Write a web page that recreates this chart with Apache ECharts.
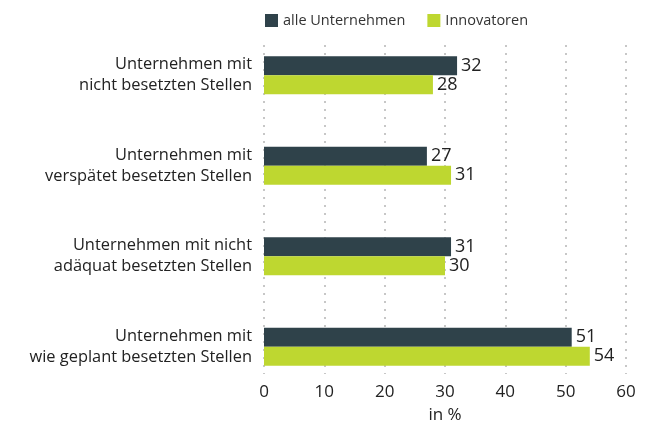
<!DOCTYPE html>
<html>
<head>
<meta charset="utf-8">
<script src="https://cdn.jsdelivr.net/npm/echarts@6/dist/echarts.min.js"></script>
<style>
  html, body { margin: 0; padding: 0; background: #fff; }
  #chart { width: 646px; height: 429px; }
</style>
</head>
<body>
<div id="chart"></div>
<script>
const categories = [
  'Unternehmen mit\nnicht besetzten Stellen',
  'Unternehmen mit\nverspätet besetzten Stellen',
  'Unternehmen mit nicht\nadäquat besetzten Stellen',
  'Unternehmen mit\nwie geplant besetzten Stellen'
];
const alleUnternehmen = [32, 27, 31, 51];
const innovatoren = [28, 31, 30, 54];
const xTicks = { min: 0, max: 60, interval: 10 };

const font = 'Open Sans';
const chart = echarts.init(document.getElementById('chart'));

const barLabel = {
  show: true,
  position: 'right',
  distance: 4,
  fontFamily: font,
  fontSize: 18,
  color: '#222'
};

chart.setOption({
  animation: false,
  textStyle: { fontFamily: font },
  legend: {
    top: 8,
    left: 260,
    itemWidth: 13,
    itemHeight: 13,
    itemGap: 22,
    icon: 'rect',
    textStyle: { fontSize: 14.5, color: '#333', fontFamily: font },
    data: ['alle Unternehmen', 'Innovatoren']
  },
  grid: [
    { left: 264, right: 20, top: 30, bottom: 37 },   // bars
    { left: 264, right: 20, top: 45, bottom: 49 }    // grid lines + ticks
  ],
  xAxis: [
    { gridIndex: 0, type: 'value', ...xTicks, show: false },
    {
      gridIndex: 1, type: 'value', ...xTicks,
      axisLine: { show: false },
      axisTick: { show: false },
      splitLine: { lineStyle: { color: '#b5b5b5', type: [2, 6], width: 1.5 } },
      axisLabel: { fontSize: 17, color: '#222', margin: 10 },
      name: 'in %',
      nameLocation: 'middle',
      nameGap: 33,
      nameTextStyle: { fontSize: 17, color: '#222', fontFamily: font }
    }
  ],
  yAxis: [
    {
      gridIndex: 0, type: 'category', data: categories, inverse: true,
      axisLine: { show: false },
      axisTick: { show: false },
      axisLabel: { fontSize: 16.4, color: '#222', lineHeight: 21, margin: 12, align: 'right' }
    },
    { gridIndex: 1, type: 'value', show: false }
  ],
  series: [
    {
      name: 'alle Unternehmen', type: 'bar', xAxisIndex: 0, yAxisIndex: 0,
      data: alleUnternehmen, barWidth: 19, barGap: '0%',
      itemStyle: { color: '#2f424a' }, label: barLabel
    },
    {
      name: 'Innovatoren', type: 'bar', xAxisIndex: 0, yAxisIndex: 0,
      data: innovatoren, barWidth: 19, barGap: '0%',
      itemStyle: { color: '#bed730' }, label: barLabel
    }
  ]
});
</script>
</body>
</html>
